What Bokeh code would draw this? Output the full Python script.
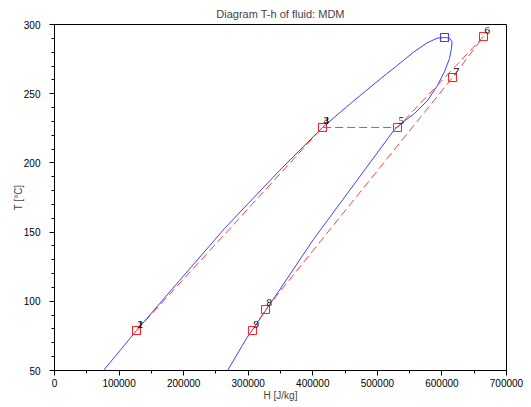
from bokeh.plotting import figure
from bokeh.models import (ColumnDataSource, LabelSet, SingleIntervalTicker,
                          BasicTickFormatter, Range1d)
from bokeh.embed import file_html
from bokeh.resources import INLINE

# Saturation dome of MDM (liquid side -> critical point -> vapour side)
dome_h = [75900, 127000, 193600, 263300, 348500, 415000, 458400, 504900, 530700,
          556000, 577200, 592700, 604000,
          611700, 615600, 614800, 611700, 604000, 593100, 577700, 557500,
          538900, 526500, 401000, 337600, 297300, 268000]
dome_T = [50.0, 78.9, 115.0, 152.6, 194.5, 225.6, 242.9, 260.8, 270.4,
          280.0, 286.8, 290.1, 290.6,
          290.2, 287.7, 282.7, 275.4, 266.0, 255.9, 245.1, 235.7,
          229.2, 224.1, 144.7, 100.6, 73.1, 50.0]

# Critical point
crit_h = [604000]
crit_T = [290.6]

# Cycle state points
point_labels = ["1", "2", "3", "4", "5", "6", "7", "8", "9"]
point_h = [127000, 127000, 415000, 415000, 531200, 664400, 616400, 326800, 306600]
point_T = [78.9, 78.9, 225.6, 225.6, 225.6, 291.3, 261.7, 94.1, 78.9]

# Cycle path drawn (dashed): 2 -> 3 -> 4 -> 5 -> 6 -> 7 -> 8 -> 9
path_h = point_h[1:]
path_T = point_T[1:]

FONT = "Liberation Sans"

p = figure(frame_width=452, frame_height=346, output_backend="svg",
           toolbar_location=None, x_range=Range1d(0, 700000),
           y_range=Range1d(50, 300), min_border_left=54, min_border_right=25,
           min_border_top=24, min_border_bottom=0,
           title="Diagram T-h of fluid: MDM")
p.title.align = "center"
p.title.text_font = FONT
p.title.text_font_size = "11px"
p.title.text_font_style = "normal"
p.title.standoff = 10
p.title.offset = 0

p.xgrid.visible = False
p.ygrid.visible = False
p.outline_line_color = "black"
p.outline_line_width = 1
p.background_fill_color = "white"

p.xaxis.ticker = SingleIntervalTicker(interval=100000, num_minor_ticks=2)
p.yaxis.ticker = SingleIntervalTicker(interval=50, num_minor_ticks=5)
p.xaxis.formatter = BasicTickFormatter(use_scientific=False)
p.xaxis.axis_label = "H [J/kg]"
p.yaxis.axis_label = "T [°C]"
for ax in (p.xaxis[0], p.yaxis[0]):
    ax.major_label_text_font = FONT
    ax.major_label_text_font_size = "10px"
    ax.axis_label_text_font = FONT
    ax.axis_label_text_font_size = "10px"
    ax.axis_label_text_font_style = "normal"
    ax.major_tick_out = 5
    ax.major_tick_in = 0
    ax.minor_tick_out = 3
    ax.minor_tick_in = 0
    ax.axis_line_color = "black"
    ax.major_tick_line_color = "black"
    ax.minor_tick_line_color = "black"
    ax.major_label_text_color = "black"
p.xaxis.major_label_standoff = 3
p.xaxis.axis_label_standoff = 0
p.yaxis.major_label_standoff = 9
p.yaxis.axis_label_standoff = -3

p.line(dome_h, dome_T, line_color="#4040ff", line_width=1)
p.scatter(crit_h, crit_T, marker="square", size=8, line_color="#4040ff",
          fill_color=None, line_width=1.2)

p.line(path_h, path_T, line_color="#ff4040", line_width=1, line_dash="8 4")

src = ColumnDataSource(dict(h=point_h, T=point_T, lab=point_labels))
p.scatter("h", "T", source=src, marker="square", size=8, line_color="#ff2020",
          fill_color=None, line_width=1)
p.add_layout(LabelSet(x="h", y="T", text="lab", source=src, x_offset=1,
                      y_offset=3, text_font=FONT, text_font_size="11px",
                      text_color="black", text_baseline="bottom",
                      text_align="left"))

open("out.html", "w").write(file_html(p, INLINE))
